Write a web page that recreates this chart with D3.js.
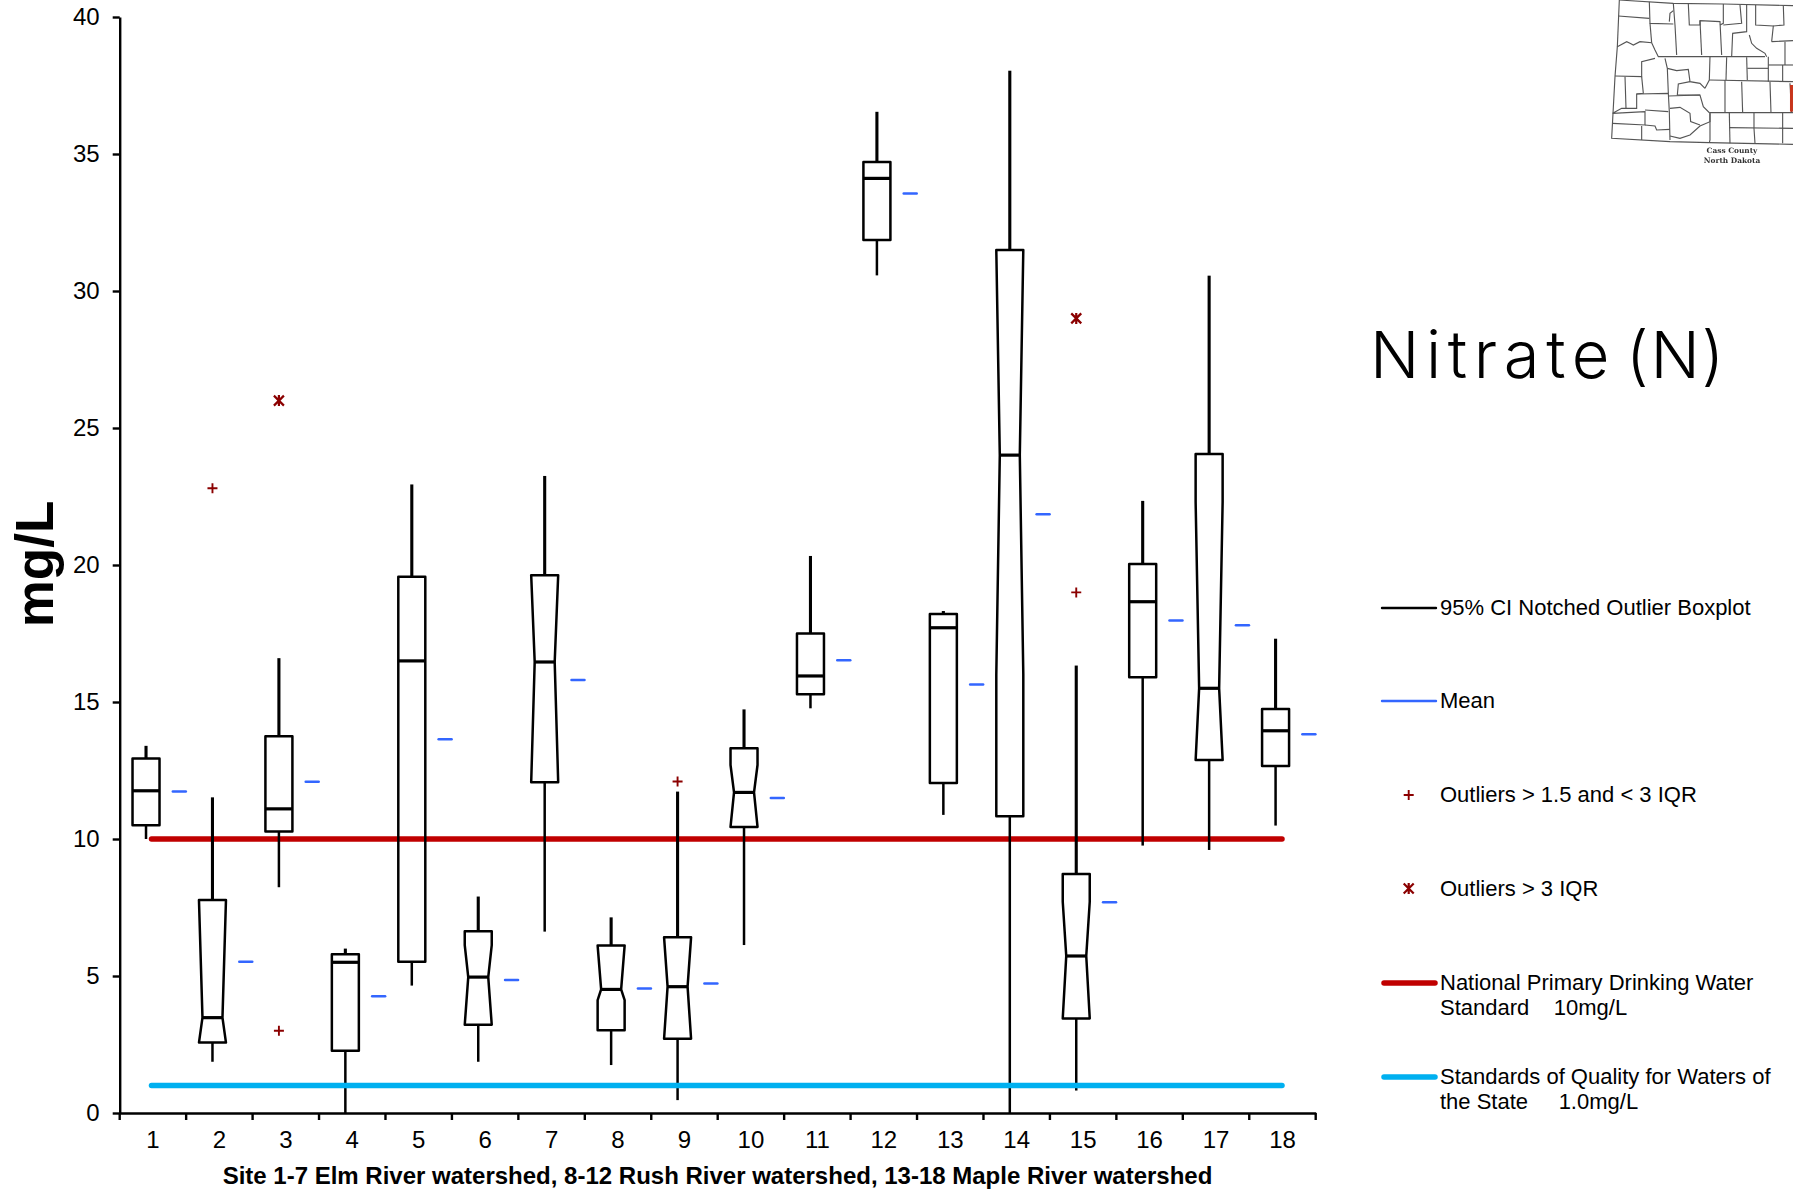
<!DOCTYPE html>
<html><head><meta charset="utf-8">
<script src="https://cdnjs.cloudflare.com/ajax/libs/d3/7.8.5/d3.min.js"></script>
<style>
html,body{margin:0;padding:0;background:#fff;}
svg{display:block;}
text{font-family:"Liberation Sans",Arial,sans-serif;fill:#000;}
</style></head><body>
<svg id="chart" width="1793" height="1192"></svg>
<script>
const sites=["1","2","3","4","5","6","7","8","9","10","11","12","13","14","15","16","17","18"];
const whiskerTop=[13.4,11.52,16.6,6.0,22.94,7.9,23.25,7.14,11.73,14.73,20.33,36.54,18.32,38.04,16.33,22.34,30.56,17.31];
const q3=[12.94,7.77,13.75,5.79,19.57,6.63,19.63,6.11,6.41,13.31,17.5,34.71,18.21,31.5,8.72,20.04,24.05,14.74];
const median=[11.76,3.48,11.1,5.5,16.5,4.96,16.46,4.51,4.61,11.7,15.95,34.11,17.71,24.01,5.73,18.66,15.5,13.95];
const q1=[10.5,2.57,10.27,2.27,5.52,3.22,12.07,3.02,2.71,10.44,15.28,31.86,12.04,10.83,3.45,15.9,12.88,12.66];
const whiskerLow=[10.0,1.87,8.24,0,4.65,1.87,6.62,1.75,0.47,6.13,14.77,30.57,10.88,0,0.82,9.76,9.6,10.49];
const means=[11.73,5.52,12.09,4.26,13.64,4.85,15.8,4.54,4.73,11.5,16.52,33.56,15.64,21.85,7.69,17.97,17.8,13.82];
const notchHigh=[null,7.77,null,null,null,6.13,19.63,6.11,6.41,12.7,null,null,null,31.5,7.71,null,22.3,null];
const notchLow=[null,2.57,null,null,null,3.22,12.07,4.12,2.71,10.44,null,null,null,16,3.45,null,12.88,null];
const mildOutlierSite=["2","3","9","15"];
const mildOutlierValue=[22.8,3.0,12.1,19.0];
const extremeOutlierSite=["3","15"];
const extremeOutlierValue=[26.0,29.0];
const yTicks=[0,5,10,15,20,25,30,35,40];
const drinkingStandard=10, stateStandard=1;
const xTitle="Site 1-7 Elm River watershed, 8-12 Rush River watershed, 13-18 Maple River watershed";
const yTitle="mg/L", chartTitleWords=["Nitrate","(N)"];
const legendLabels=[["95% CI Notched Outlier Boxplot"],["Mean"],["Outliers > 1.5 and < 3 IQR"],["Outliers > 3 IQR"],["National Primary Drinking Water","Standard    10mg/L"],["Standards of Quality for Waters of","the State     1.0mg/L"]];
const mapCaption=["Cass County","North Dakota"];
const mapLines=[
"M88,0L82,140L75,230L65,415L240,425L358,428L609,433","M88,0L250,10L400,12L609,17",
"M178,5L180,70L250,72","M85,48L178,55","M250,10L255,75L260,165","M238,65L240,40L250,32",
"M295,12L298,75L330,75L330,62L390,65L395,165","M330,62L335,165","M400,12L400,70L390,75",
"M450,15L455,70L400,75","M497,15L497,75L550,78L545,125","M580,17L582,75L550,78","M470,15L470,95L428,100L425,170",
"M82,140L110,125L120,130L130,135L150,125L185,128L195,150L205,170L220,170L525,170","M180,70L185,128",
"M195,175L155,185L155,230L75,228","M105,230L108,325","M155,230L160,280L140,282L140,325L95,325L68,340L165,335L165,375L68,370",
"M155,378L155,420","M165,375L195,378L200,390L240,388","M140,282L235,280L238,335L240,420","M235,335L165,330",
"M225,175L232,205L235,280","M232,205L260,212L295,208L300,245L330,250L345,265","M360,170L358,240L345,265",
"M300,245L265,252L262,285L330,285","M235,288L330,285L340,320L360,340L360,365L330,378L300,405L270,415L240,408",
"M240,325L270,322L300,340L302,365L330,375","M360,340L360,420L358,428","M360,338L609,338",
"M410,172L408,240","M470,172L472,240","M358,240L609,245","M405,240L405,338","M455,245L458,338","M540,245L543,338","M600,250L605,338",
"M472,205L535,205","M535,170L535,245","M578,195L578,245","M535,195L609,195","M585,125L585,195","M545,125L609,122",
"M478,105L485,130L500,145L525,160L530,170","M418,338L420,430","M492,338L492,385L495,430","M578,338L578,430","M418,383L609,385"];

const RED="#C00000",CYAN="#00B0F0",MEAN="#3366FF",OUT="#8B0000";
const svg=d3.select("#chart");
const x=d3.scaleBand().domain(sites).range([119.7,1315.7]).padding(0);
const y=d3.scaleLinear().domain([0,40]).range([1113,17]);
const bw=x.bandwidth();
const boxX=s=>x(s)+bw/2-6.9, meanX=s=>x(s)+bw/2+26.4;
const H=13.5,N=10;

// axes
const yAxis=svg.append("g").attr("transform","translate(119.7,0)")
  .call(d3.axisLeft(y).tickValues(yTicks).tickSize(7).tickSizeOuter(0).tickPadding(13));
const xAxis=svg.append("g").attr("transform","translate(0,1113)")
  .call(d3.axisBottom(x).tickSize(0).tickPadding(18));
[yAxis,xAxis].forEach(g=>{g.selectAll("text").style("font-size","24px").style("font-family",'"Liberation Sans"').attr("fill","#000");
  g.selectAll("line,path").attr("stroke","#000").attr("stroke-width",2.4);});
xAxis.selectAll(".edge").data([...sites.map(s=>x(s)),x(sites[17])+bw]).enter().append("line").attr("class","edge")
  .attr("x1",d=>d).attr("x2",d=>d).attr("y1",0).attr("y2",7).attr("stroke","#000").attr("stroke-width",2.4);

// red standard under boxes
svg.append("line").attr("x1",151.5).attr("x2",1282).attr("y1",y(drinkingStandard)).attr("y2",y(drinkingStandard))
  .attr("stroke",RED).attr("stroke-width",5.5).attr("stroke-linecap","round");

// boxes
const data=sites.map((s,i)=>({s,top:whiskerTop[i],q3:q3[i],med:median[i],q1:q1[i],low:whiskerLow[i],mean:means[i],nh:notchHigh[i],nl:notchLow[i]}));
const g=svg.append("g");
g.selectAll(".wu").data(data).enter().append("line").attr("class","wu")
  .attr("x1",d=>boxX(d.s)).attr("x2",d=>boxX(d.s)).attr("y1",d=>y(d.top)).attr("y2",d=>y(d.q3)).attr("stroke","#000").attr("stroke-width",3.1);
g.selectAll(".wl").data(data).enter().append("line").attr("class","wl")
  .attr("x1",d=>boxX(d.s)).attr("x2",d=>boxX(d.s)).attr("y1",d=>y(d.q1)).attr("y2",d=>y(d.low)).attr("stroke","#000").attr("stroke-width",2.5);
function boxPath(d){
  const c=boxX(d.s),p=d3.path();
  p.moveTo(c-H,y(d.q3));p.lineTo(c+H,y(d.q3));
  if(d.nh!==null){
    if(d.nh<d.q3)p.lineTo(c+H,y(d.nh));
    p.lineTo(c+N,y(d.med));
    if(d.nl>d.q1)p.lineTo(c+H,y(d.nl));
  }
  p.lineTo(c+H,y(d.q1));p.lineTo(c-H,y(d.q1));
  if(d.nh!==null){
    if(d.nl>d.q1)p.lineTo(c-H,y(d.nl));
    p.lineTo(c-N,y(d.med));
    if(d.nh<d.q3)p.lineTo(c-H,y(d.nh));
  }
  p.closePath();return p.toString();
}
g.selectAll(".box").data(data).enter().append("path").attr("class","box").attr("d",boxPath)
  .attr("fill","none").attr("stroke","#000").attr("stroke-width",2.5).attr("stroke-linejoin","round");
g.selectAll(".med").data(data).enter().append("line").attr("class","med")
  .attr("x1",d=>boxX(d.s)-(d.nh!==null?N:H)).attr("x2",d=>boxX(d.s)+(d.nh!==null?N:H))
  .attr("y1",d=>y(d.med)).attr("y2",d=>y(d.med)).attr("stroke","#000").attr("stroke-width",3.2);
g.selectAll(".mean").data(data).enter().append("line").attr("class","mean")
  .attr("x1",d=>meanX(d.s)-6.5).attr("x2",d=>meanX(d.s)+6.5).attr("y1",d=>y(d.mean)).attr("y2",d=>y(d.mean))
  .attr("stroke",MEAN).attr("stroke-width",2.5).attr("stroke-linecap","round");

// cyan standard over boxes
svg.append("line").attr("x1",151.5).attr("x2",1282).attr("y1",y(stateStandard)).attr("y2",y(stateStandard))
  .attr("stroke",CYAN).attr("stroke-width",5.5).attr("stroke-linecap","round");

// outlier glyphs
const plusPath=(cx,cy)=>{const p=d3.path();p.moveTo(cx-5,cy);p.lineTo(cx+5,cy);p.moveTo(cx,cy-5);p.lineTo(cx,cy+5);return p.toString();};
const starPath=(cx,cy)=>{const p=d3.path();p.moveTo(cx-5,cy-5);p.lineTo(cx+5,cy+5);p.moveTo(cx+5,cy-5);p.lineTo(cx-5,cy+5);p.moveTo(cx,cy-5.5);p.lineTo(cx,cy+5.5);return p.toString();};
svg.selectAll(".mild").data(mildOutlierSite).enter().append("path").attr("class","mild")
  .attr("d",(s,i)=>plusPath(boxX(s),y(mildOutlierValue[i]))).attr("fill","none").attr("stroke",OUT).attr("stroke-width",1.9);
svg.selectAll(".ext").data(extremeOutlierSite).enter().append("path").attr("class","ext")
  .attr("d",(s,i)=>starPath(boxX(s),y(extremeOutlierValue[i]))).attr("fill","none").attr("stroke",OUT).attr("stroke-width",2.2);

// titles
svg.append("text").attr("x",717.5).attr("y",1184).attr("text-anchor","middle").attr("font-weight","bold").style("font-size","24px").text(xTitle);
svg.append("text").attr("transform","translate(53,564) rotate(-90)").attr("text-anchor","middle").attr("font-weight","bold").style("font-size","53px").text(yTitle);
const titleText=svg.append("text").attr("y",378).style("font-family",'"Inter"').attr("font-weight",300).style("font-size","65px");
const titleSpans=[{x:1370,w:246},{x:1626,w:100}];
chartTitleWords.forEach((w,i)=>{
  const t=titleText.append("tspan").attr("x",titleSpans[i].x).text(w);
  const n=t.node().getComputedTextLength();
  t.style("letter-spacing",((titleSpans[i].w-n)/w.length)+"px");
  if(i===0) titleText.append("tspan").style("font-size","2px").style("white-space","pre").text(" ");
});

// legend
const legendY=[608,701,795,888.5,983,1077];
const lg=svg.append("g");
const styles=[{c:"#000",w:2.4},{c:MEAN,w:2.4},null,null,{c:RED,w:5.5},{c:CYAN,w:5.5}];
legendLabels.forEach((lines,i)=>{
  const ly=legendY[i],st=styles[i];
  if(st) lg.append("line").attr("x1",st.w>3?1384:1382).attr("x2",st.w>3?1435:1436).attr("y1",ly).attr("y2",ly).attr("stroke",st.c).attr("stroke-width",st.w).attr("stroke-linecap","round");
  else if(i===2) lg.append("path").attr("d",plusPath(1408.7,ly)).attr("fill","none").attr("stroke",OUT).attr("stroke-width",1.9);
  else lg.append("path").attr("d",starPath(1408.7,ly)).attr("fill","none").attr("stroke",OUT).attr("stroke-width",2.2);
  lines.forEach((t,j)=>lg.append("text").attr("x",1440).attr("y",ly+7+j*25).style("font-size","22px").style("white-space","pre").text(t));
});

// locator map
svg.append("defs").append("filter").attr("id","soft").append("feGaussianBlur").attr("stdDeviation",0.55);
const map=svg.append("g").attr("transform","translate(1590,0) scale(0.3333)").attr("filter","url(#soft)");
map.selectAll(".county").data(mapLines).enter().append("path").attr("class","county").attr("d",d=>d)
  .attr("fill","none").attr("stroke","#555").attr("stroke-width",3.4);
map.append("rect").attr("x",600).attr("y",255).attr("width",9).attr("height",80).attr("fill","#C8341C");
mapCaption.forEach((t,i)=>svg.append("text").attr("x",1732).attr("y",153+i*9.8).attr("text-anchor","middle").attr("filter","url(#soft)")
  .style("font-family",'"DejaVu Serif"').attr("font-weight","bold").style("font-size","7.4px").style("fill","#333").text(t));
</script>
</body></html>
